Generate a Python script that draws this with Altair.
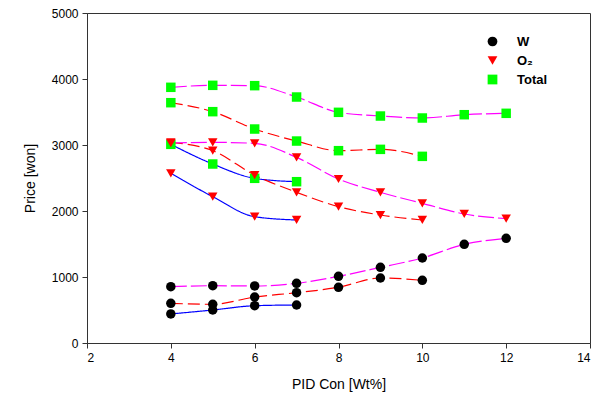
import altair as alt
import pandas as pd

# x values (PID Con [Wt%])
x_blue = [4, 5, 6, 7]
x_red = [4, 5, 6, 7, 8, 9, 10]
x_mag = [4, 5, 6, 7, 8, 9, 10, 11, 12]

# blue solid series
w_blue = [440, 500, 565, 576]
o2_blue = [2571, 2217, 1914, 1864]
tot_blue = [3010, 2712, 2495, 2444]

# red dashed series
w_red = [601, 586, 697, 762, 844, 985, 950]
o2_red = [3040, 2914, 2545, 2283, 2066, 1939, 1864]
tot_red = [3641, 3505, 3242, 3060, 2914, 2934, 2828]

# magenta dashed series
w_mag = [853, 868, 864, 904, 1010, 1146, 1288, 1495, 1586]
o2_mag = [3030, 3040, 3025, 2813, 2485, 2283, 2116, 1955, 1884]
tot_mag = [3874, 3904, 3899, 3727, 3495, 3439, 3409, 3459, 3480]

components = ["W", "O\u2082", "Total"]
groups = ["blue", "red", "magenta"]

rows = []
for grp, xs, series in [
    ("blue", x_blue, [w_blue, o2_blue, tot_blue]),
    ("red", x_red, [w_red, o2_red, tot_red]),
    ("magenta", x_mag, [w_mag, o2_mag, tot_mag]),
]:
    for comp, vals in zip(components, series):
        for xv, yv in zip(xs, vals):
            rows.append({"x": xv, "y": yv, "comp": comp, "grp": grp,
                         "key": grp + comp})
df = pd.DataFrame(rows)

xenc = alt.X("x:Q", scale=alt.Scale(domain=[2, 14], nice=False),
             axis=alt.Axis(values=[2, 4, 6, 8, 10, 12, 14], format="d",
                           title="PID Con [Wt%]"))
yenc = alt.Y("y:Q", scale=alt.Scale(domain=[0, 5000], nice=False),
             axis=alt.Axis(values=[0, 1000, 2000, 3000, 4000, 5000], format="d",
                           title="Price [won]"))

lines = alt.Chart(df).mark_line(interpolate="monotone", strokeWidth=1.2).encode(
    x=xenc, y=yenc,
    detail="key:N",
    order="x:Q",
    stroke=alt.Stroke("grp:N", scale=alt.Scale(domain=groups,
                      range=["#0000ff", "#ff0000", "#ff00ff"]), legend=None),
    strokeDash=alt.StrokeDash("grp:N", scale=alt.Scale(domain=groups,
                              range=[[1, 0], [12, 5], [16, 4]]), legend=None),
)

points = alt.Chart(df).mark_point(filled=True, opacity=1, size=90, strokeWidth=0).encode(
    x=xenc, y=yenc,
    color=alt.Color("comp:N", scale=alt.Scale(domain=components,
                    range=["#000000", "#ff0000", "#00ff00"]),
                    legend=alt.Legend(title=None, orient="none", legendX=399, legendY=22,
                                      labelFont="Liberation Sans", labelFontWeight="bold",
                                      labelFontSize=13, labelColor="black",
                                      symbolSize=95, rowPadding=5, labelOffset=18)),
    shape=alt.Shape("comp:N", scale=alt.Scale(domain=components,
                    range=["circle", "triangle-down", "square"])),
)

chart = (lines + points).properties(
    width=503, height=330,
    autosize=alt.AutoSizeParams(type="none"),
    padding={"left": 79, "top": 5, "right": 6, "bottom": 50},
).configure_view(stroke="#333333", strokeWidth=1).configure_axis(
    grid=False, domainColor="#333333", tickColor="#333333", tickSize=5,
    labelFont="Liberation Sans", labelFontSize=12, labelColor="black",
    titleFont="Liberation Sans", titleFontSize=14, titleFontWeight="normal",
    titleColor="black", labelPadding=4,
).configure_axisX(titlePadding=14).configure_axisY(titlePadding=14)

chart.save("out.html", embed_options={"renderer": "svg", "actions": False})
